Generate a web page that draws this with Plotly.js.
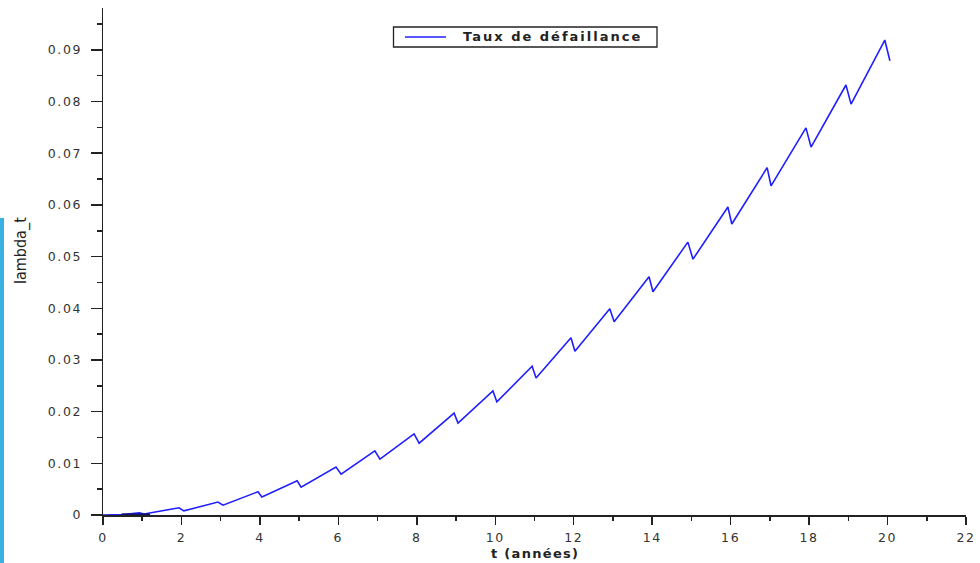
<!DOCTYPE html>
<html>
<head>
<meta charset="utf-8">
<script src="https://cdn.plot.ly/plotly-3.0.1.min.js"></script>
<style>
html,body{margin:0;padding:0;background:#fff;}
#chart{width:980px;height:563px;}
.xtick text,.ytick text{letter-spacing:1.6px;}
</style>
</head>
<body>
<div id="chart"></div>
<script>
// t (années)
const tValues = [0, 0.5, 0.93, 1.05, 1.94, 2.06, 2.93, 3.06, 3.95, 4.05, 4.95, 5.05,
  5.94, 6.07, 6.93, 7.06, 7.93, 8.06, 8.95, 9.05, 9.94, 10.04, 10.94, 11.04,
  11.93, 12.03, 12.92, 13.03, 13.92, 14.02, 14.91, 15.04, 15.93, 16.03,
  16.93, 17.03, 17.92, 18.05, 18.94, 19.07, 19.93, 20.06];
// taux de défaillance lambda_t
const lambdaValues = [0, 0.0001, 0.0004, 0.0002, 0.0014, 0.0008, 0.0025, 0.0019, 0.0045, 0.0035, 0.0066, 0.0054,
  0.0093, 0.0079, 0.0124, 0.0108, 0.0157, 0.0139, 0.0197, 0.0178, 0.0240, 0.0219, 0.0288, 0.0265,
  0.0343, 0.0317, 0.0399, 0.0374, 0.0461, 0.0432, 0.0528, 0.0495, 0.0596, 0.0563,
  0.0672, 0.0637, 0.0749, 0.0712, 0.0832, 0.0795, 0.0919, 0.0879];
// short darker overlap near the origin
const darkT = [0.47, 1.2];
const darkY = [0.0001, 0.0001];

const seriesName = 'Taux de défaillance';
const xTitle = 't (années)';
const yTitle = 'lambda_t';

const axisColor = '#222';
const lineColor = '#1f1fff';
const tickFont = {family: 'DejaVu Sans, sans-serif', size: 12.5, color: '#333'};

// pixel -> paper helpers (plot area: x 103..966, y 8..515)
const px = v => (v - 103) / 863;
const py = v => (515 - v) / 507;

const traces = [
  {x: tValues, y: lambdaValues, mode: 'lines', name: seriesName,
   line: {color: lineColor, width: 1.6}},
  {x: darkT, y: darkY, mode: 'lines', showlegend: false, hoverinfo: 'skip',
   line: {color: '#14146e', width: 2.2}}
];

const layout = {
  width: 980, height: 563,
  margin: {l: 103, r: 14, t: 8, b: 48, pad: 0},
  paper_bgcolor: '#fff', plot_bgcolor: '#fff',
  showlegend: false,
  xaxis: {
    range: [0, 22], dtick: 2, tick0: 0,
    showgrid: false, zeroline: false,
    showline: true, linecolor: axisColor, linewidth: 1.5,
    ticks: 'outside', ticklen: 8, tickwidth: 1.5, tickcolor: axisColor,
    minor: {dtick: 1, ticks: 'outside', ticklen: 4, tickwidth: 1.5, tickcolor: axisColor, showgrid: false},
    tickfont: tickFont, ticklabelstandoff: 2
  },
  yaxis: {
    range: [0, 0.0981], dtick: 0.01, tick0: 0,
    showgrid: false, zeroline: false,
    showline: true, linecolor: axisColor, linewidth: 1.5,
    ticks: 'outside', ticklen: 11, tickwidth: 1.5, tickcolor: axisColor,
    minor: {dtick: 0.005, ticks: 'outside', ticklen: 5, tickwidth: 1.5, tickcolor: axisColor, showgrid: false},
    tickfont: tickFont, ticklabelstandoff: 6
  },
  annotations: [
    {text: '<span style="letter-spacing:1.3px">' + xTitle + '</span>', xref: 'paper', yref: 'paper', x: 0.5, y: py(553),
     xanchor: 'center', yanchor: 'middle', showarrow: false,
     font: {family: 'DejaVu Sans, sans-serif', size: 13, color: '#222', weight: 'bold'}},
    {text: yTitle, xref: 'paper', yref: 'paper', x: px(21), y: py(251),
     xanchor: 'center', yanchor: 'middle', showarrow: false, textangle: -90,
     font: {family: 'Liberation Sans Narrow, DejaVu Sans Condensed, sans-serif', size: 16, color: '#222'}},
    // legend label
    {text: '<span style="letter-spacing:2px">' + seriesName + '</span>', xref: 'paper', yref: 'paper', x: px(461), y: py(37),
     xanchor: 'left', yanchor: 'middle', showarrow: false,
     font: {family: 'DejaVu Sans, sans-serif', size: 13, color: '#222', weight: 'bold'}}
  ],
  shapes: [
    {type: 'rect', xref: 'paper', yref: 'paper',
     x0: px(0), x1: px(4), y0: py(563), y1: py(218),
     fillcolor: '#3bb1e1', line: {width: 0}, layer: 'above'},
    // legend box
    {type: 'rect', xref: 'paper', yref: 'paper',
     x0: px(393.5), x1: px(657), y0: py(47), y1: py(27),
     fillcolor: '#fff', line: {color: '#222', width: 1.3}, layer: 'above'},
    // legend line sample
    {type: 'line', xref: 'paper', yref: 'paper',
     x0: px(405), x1: px(446), y0: py(37), y1: py(37),
     line: {color: lineColor, width: 1.6}, layer: 'above'}
  ]
};

Plotly.newPlot('chart', traces, layout, {displayModeBar: false, staticPlot: true});
</script>
</body>
</html>
